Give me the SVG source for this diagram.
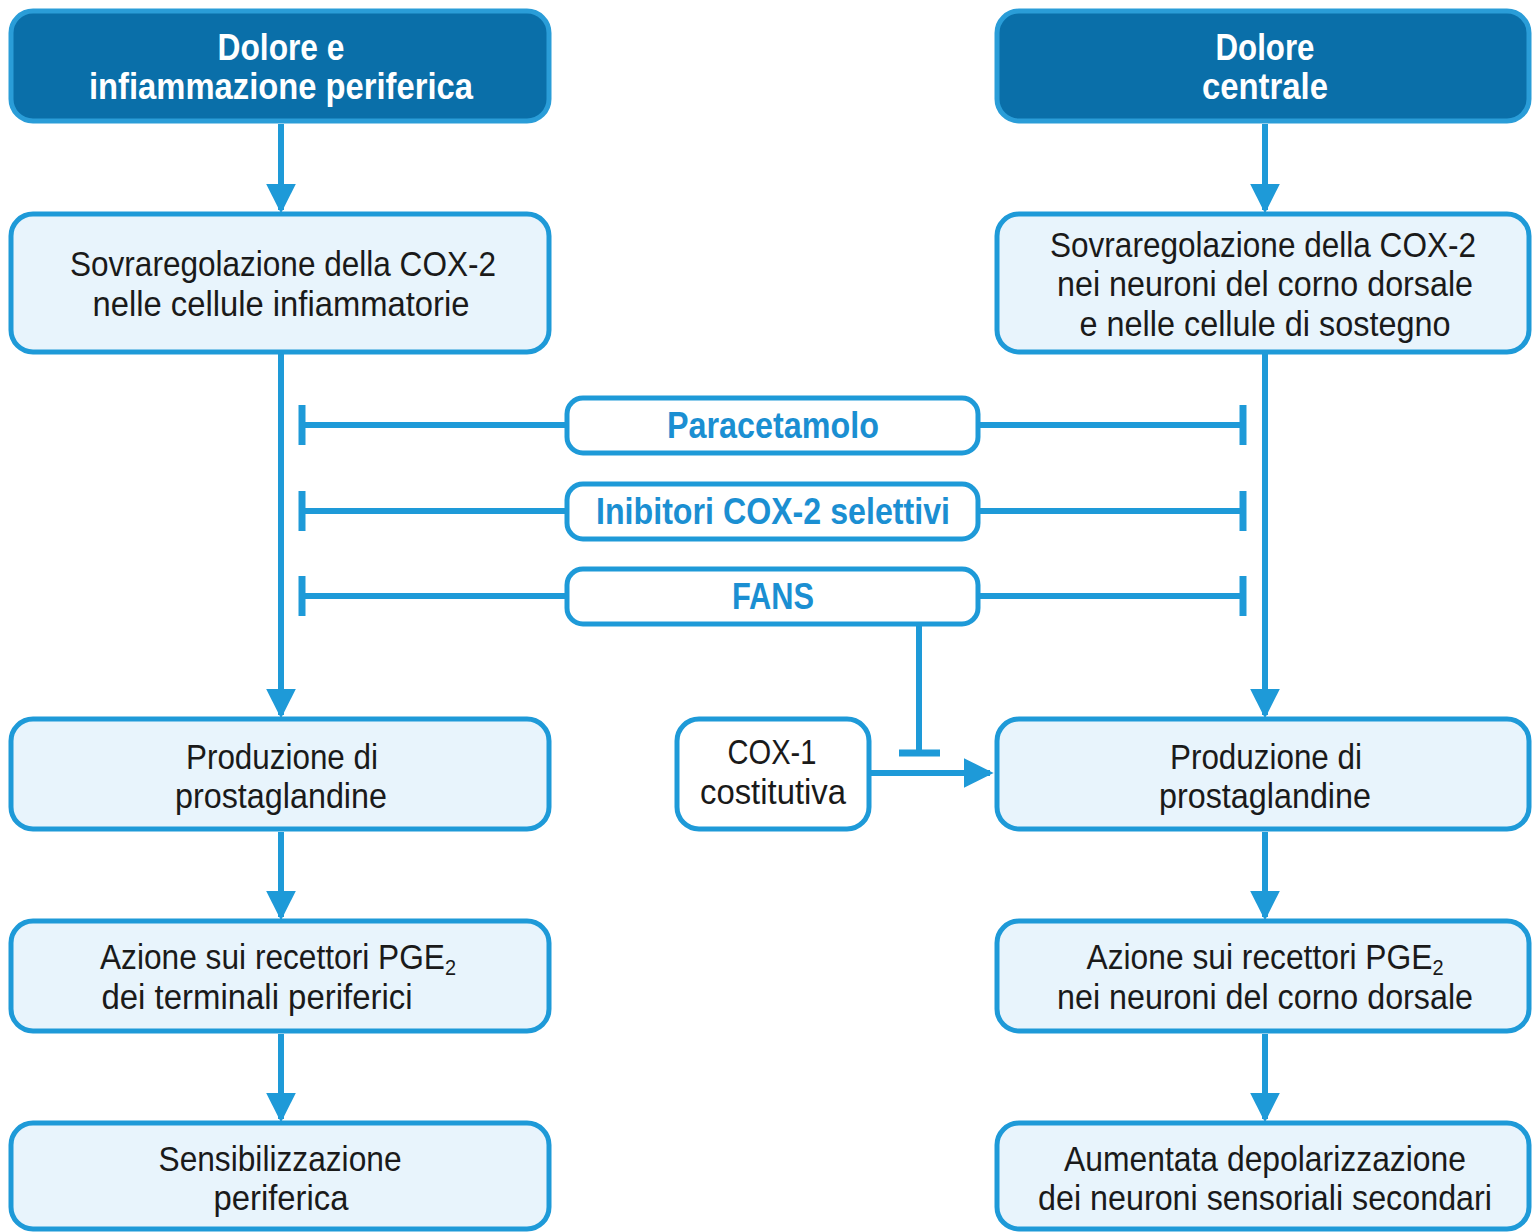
<svg xmlns="http://www.w3.org/2000/svg" width="1532" height="1232" viewBox="0 0 1532 1232">
<style>
.hdr{fill:#0a6fa9;stroke:#2a9dd8;stroke-width:5}
.box{fill:#e8f4fc;stroke:#1e9ad8;stroke-width:5}
.wbox{fill:#ffffff;stroke:#1e9ad8;stroke-width:5}
.ht{font-family:"Liberation Sans",Arial,sans-serif;font-weight:bold;font-size:36px;fill:#ffffff;text-anchor:middle}
.t{font-family:"Liberation Sans",Arial,sans-serif;font-size:35px;fill:#1a1a1a;text-anchor:middle}
.dt{font-family:"Liberation Sans",Arial,sans-serif;font-weight:bold;font-size:36px;fill:#1b8fd2;text-anchor:middle}
.sub{font-size:22px}
.ln{stroke:#1e9ad8;stroke-width:6;fill:none}
.bar{stroke:#1e9ad8;stroke-width:7;fill:none}
</style>
<defs>
<marker id="ah" markerWidth="5" markerHeight="5" refX="4.4" refY="2.5" orient="auto" markerUnits="strokeWidth">
<path d="M0,0 L5,2.5 L0,5 Z" fill="#1e9ad8"/>
</marker>
</defs>
<rect width="1532" height="1232" fill="#ffffff"/>

<g id="connectors">
<line class="ln" x1="281" y1="124" x2="281" y2="210" marker-end="url(#ah)"/>
<line class="ln" x1="1265" y1="124" x2="1265" y2="210" marker-end="url(#ah)"/>
<line class="ln" x1="281" y1="354" x2="281" y2="715" marker-end="url(#ah)"/>
<line class="ln" x1="1265" y1="354" x2="1265" y2="715" marker-end="url(#ah)"/>
<line class="ln" x1="281" y1="832" x2="281" y2="917" marker-end="url(#ah)"/>
<line class="ln" x1="1265" y1="832" x2="1265" y2="917" marker-end="url(#ah)"/>
<line class="ln" x1="281" y1="1034" x2="281" y2="1119" marker-end="url(#ah)"/>
<line class="ln" x1="1265" y1="1034" x2="1265" y2="1119" marker-end="url(#ah)"/>
<line class="ln" x1="302" y1="425" x2="567" y2="425"/>
<line class="bar" x1="302" y1="405" x2="302" y2="445"/>
<line class="ln" x1="978" y1="425" x2="1243" y2="425"/>
<line class="bar" x1="1243" y1="405" x2="1243" y2="445"/>
<line class="ln" x1="302" y1="511" x2="567" y2="511"/>
<line class="bar" x1="302" y1="491" x2="302" y2="531"/>
<line class="ln" x1="978" y1="511" x2="1243" y2="511"/>
<line class="bar" x1="1243" y1="491" x2="1243" y2="531"/>
<line class="ln" x1="302" y1="596" x2="567" y2="596"/>
<line class="bar" x1="302" y1="576" x2="302" y2="616"/>
<line class="ln" x1="978" y1="596" x2="1243" y2="596"/>
<line class="bar" x1="1243" y1="576" x2="1243" y2="616"/>
<line class="ln" x1="919" y1="624" x2="919" y2="753"/>
<line class="bar" x1="899" y1="753" x2="940" y2="753"/>
<line class="ln" x1="870" y1="773" x2="990" y2="773" marker-end="url(#ah)"/>
</g>

<g id="hdr-left">
<rect class="hdr" x="11" y="11" width="538" height="110" rx="22"/>
<text class="ht" x="281" y="60" textLength="127" lengthAdjust="spacingAndGlyphs">Dolore e</text>
<text class="ht" x="281" y="99" textLength="384" lengthAdjust="spacingAndGlyphs">infiammazione periferica</text>
</g>
<g id="hdr-right">
<rect class="hdr" x="997" y="11" width="532" height="110" rx="22"/>
<text class="ht" x="1265" y="60" textLength="99" lengthAdjust="spacingAndGlyphs">Dolore</text>
<text class="ht" x="1265" y="99" textLength="126" lengthAdjust="spacingAndGlyphs">centrale</text>
</g>

<g id="l2">
<rect class="box" x="11" y="214" width="538" height="138" rx="22"/>
<text class="t" x="283" y="276" textLength="426" lengthAdjust="spacingAndGlyphs">Sovraregolazione della COX-2</text>
<text class="t" x="281" y="316" textLength="377" lengthAdjust="spacingAndGlyphs">nelle cellule infiammatorie</text>
</g>
<g id="r2">
<rect class="box" x="997" y="214" width="532" height="138" rx="22"/>
<text class="t" x="1263" y="257" textLength="426" lengthAdjust="spacingAndGlyphs">Sovraregolazione della COX-2</text>
<text class="t" x="1265" y="296" textLength="416" lengthAdjust="spacingAndGlyphs">nei neuroni del corno dorsale</text>
<text class="t" x="1265" y="336" textLength="371" lengthAdjust="spacingAndGlyphs">e nelle cellule di sostegno</text>
</g>

<g id="paracetamolo">
<rect class="wbox" x="567" y="398" width="411" height="55" rx="16"/>
<text class="dt" x="773" y="438" textLength="212" lengthAdjust="spacingAndGlyphs">Paracetamolo</text>
</g>
<g id="inibitori">
<rect class="wbox" x="567" y="484" width="411" height="55" rx="16"/>
<text class="dt" x="773" y="524" textLength="354" lengthAdjust="spacingAndGlyphs">Inibitori COX-2 selettivi</text>
</g>
<g id="fans">
<rect class="wbox" x="567" y="569" width="411" height="55" rx="16"/>
<text class="dt" x="773" y="609" textLength="82" lengthAdjust="spacingAndGlyphs">FANS</text>
</g>

<g id="cox1">
<rect class="wbox" x="677" y="719" width="192" height="110" rx="22"/>
<text class="t" x="772" y="764" textLength="89" lengthAdjust="spacingAndGlyphs">COX-1</text>
<text class="t" x="773" y="804" textLength="146" lengthAdjust="spacingAndGlyphs">costitutiva</text>
</g>

<g id="l3">
<rect class="box" x="11" y="719" width="538" height="110" rx="22"/>
<text class="t" x="282" y="769" textLength="192" lengthAdjust="spacingAndGlyphs">Produzione di</text>
<text class="t" x="281" y="808" textLength="212" lengthAdjust="spacingAndGlyphs">prostaglandine</text>
</g>
<g id="r3">
<rect class="box" x="997" y="719" width="532" height="110" rx="22"/>
<text class="t" x="1266" y="769" textLength="192" lengthAdjust="spacingAndGlyphs">Produzione di</text>
<text class="t" x="1265" y="808" textLength="212" lengthAdjust="spacingAndGlyphs">prostaglandine</text>
</g>

<g id="l4">
<rect class="box" x="11" y="921" width="538" height="110" rx="22"/>
<text class="t" x="278" y="969" textLength="356" lengthAdjust="spacingAndGlyphs">Azione sui recettori PGE<tspan class="sub" dy="6">2</tspan></text>
<text class="t" x="257" y="1009" textLength="311" lengthAdjust="spacingAndGlyphs">dei terminali periferici</text>
</g>
<g id="r4">
<rect class="box" x="997" y="921" width="532" height="110" rx="22"/>
<text class="t" x="1265" y="969" textLength="357" lengthAdjust="spacingAndGlyphs">Azione sui recettori PGE<tspan class="sub" dy="6">2</tspan></text>
<text class="t" x="1265" y="1009" textLength="416" lengthAdjust="spacingAndGlyphs">nei neuroni del corno dorsale</text>
</g>

<g id="l5">
<rect class="box" x="11" y="1123" width="538" height="106" rx="22"/>
<text class="t" x="280" y="1171" textLength="243" lengthAdjust="spacingAndGlyphs">Sensibilizzazione</text>
<text class="t" x="281" y="1210" textLength="135" lengthAdjust="spacingAndGlyphs">periferica</text>
</g>
<g id="r5">
<rect class="box" x="997" y="1123" width="532" height="106" rx="22"/>
<text class="t" x="1265" y="1171" textLength="402" lengthAdjust="spacingAndGlyphs">Aumentata depolarizzazione</text>
<text class="t" x="1265" y="1210" textLength="454" lengthAdjust="spacingAndGlyphs">dei neuroni sensoriali secondari</text>
</g>
</svg>
